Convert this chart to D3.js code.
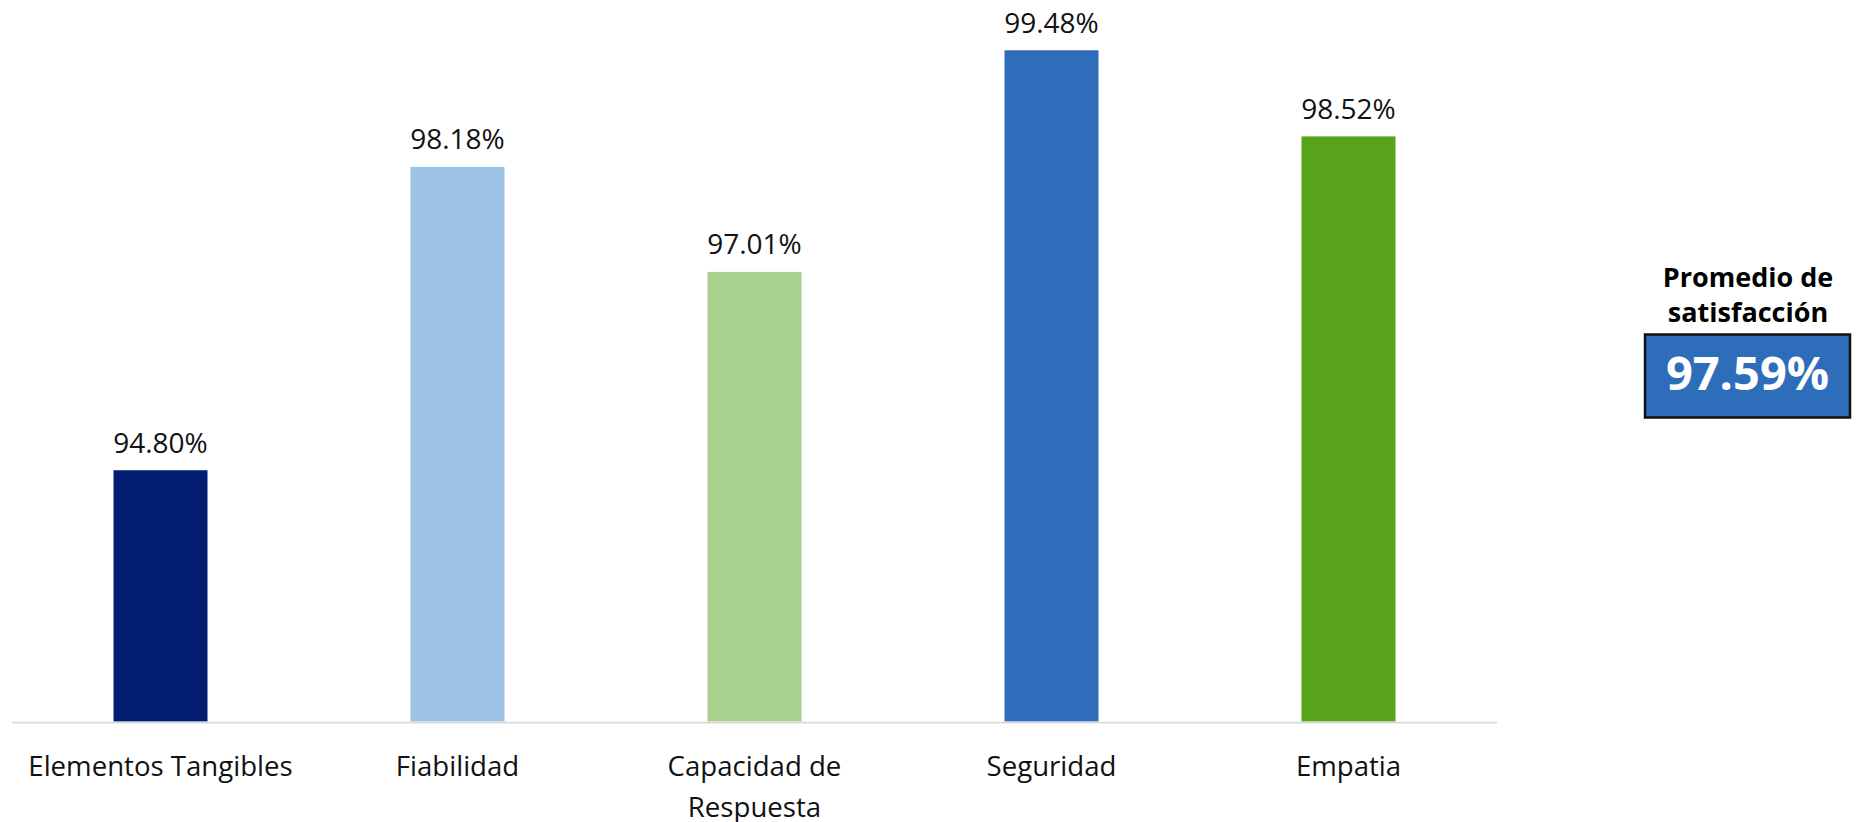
<!DOCTYPE html>
<html>
<head>
<meta charset="utf-8">
<script src="https://cdn.jsdelivr.net/npm/d3@7"></script>
<style>
  html, body { margin: 0; padding: 0; background: #ffffff; }
  svg { display: block; font-family: "Open Sans", "Noto Sans", sans-serif; }
</style>
</head>
<body>
<svg id="chart" width="1860" height="822"></svg>
<script>
// Satisfaction by service-quality dimension (percent)
const categories = ["Elementos Tangibles", "Fiabilidad", "Capacidad de Respuesta", "Seguridad", "Empatia"];
const categoryLines = [["Elementos Tangibles"], ["Fiabilidad"], ["Capacidad de", "Respuesta"], ["Seguridad"], ["Empatia"]];
const values = [94.80, 98.18, 97.01, 99.48, 98.52];
const barColors = ["#031d73", "#9dc3e6", "#a9d18e", "#2e6db9", "#57a31c"];
const averageTitle = ["Promedio de", "satisfacción"];
const averageValue = 97.59;

const svg = d3.select("#chart");

const x = d3.scaleBand()
  .domain(categories)
  .range([12, 1497])
  .paddingInner(0.6835)
  .paddingOuter(0.6835 / 2);

const y = d3.scaleLinear()
  .domain([92, 100])
  .range([721.5, 3.6]);

const fmt = v => v.toFixed(2) + "%";

// Bars
svg.append("g")
  .selectAll("rect")
  .data(values)
  .join("rect")
  .attr("x", (d, i) => x(categories[i]))
  .attr("y", d => y(d))
  .attr("width", x.bandwidth())
  .attr("height", d => y(92) - y(d))
  .attr("fill", (d, i) => barColors[i]);

// Category axis baseline
svg.append("line")
  .attr("x1", x.range()[0])
  .attr("x2", x.range()[1])
  .attr("y1", 722.6)
  .attr("y2", 722.6)
  .attr("stroke", "#d9d9d9")
  .attr("stroke-width", 1.8);

// Value labels above bars
svg.append("g")
  .selectAll("text")
  .data(values)
  .join("text")
  .attr("x", (d, i) => x(categories[i]) + x.bandwidth() / 2)
  .attr("y", d => y(d) - 17.5)
  .attr("text-anchor", "middle")
  .attr("font-size", 28)
  .attr("fill", "#111111")
  .text(d => fmt(d));

// Category labels (wrapped)
const cat = svg.append("g")
  .selectAll("text")
  .data(categories)
  .join("text")
  .attr("text-anchor", "middle")
  .attr("font-size", 27.6)
  .attr("fill", "#111111");
cat.each(function(d, i) {
  const t = d3.select(this);
  categoryLines[i].forEach((line, k) => {
    t.append("tspan")
      .attr("x", x(d) + x.bandwidth() / 2)
      .attr("y", 775.5 + k * 41)
      .text(line);
  });
});

// Average satisfaction panel
const panel = svg.append("g");
averageTitle.forEach((line, k) => {
  panel.append("text")
    .attr("x", 1748)
    .attr("y", 287 + k * 34.5)
    .attr("text-anchor", "middle")
    .attr("font-size", 27)
    .attr("font-weight", "bold")
    .attr("fill", "#000000")
    .text(line);
});
panel.append("rect")
  .attr("x", 1645)
  .attr("y", 334.5)
  .attr("width", 205)
  .attr("height", 83)
  .attr("fill", "#2e6db9")
  .attr("stroke", "#111111")
  .attr("stroke-width", 2.5);
panel.append("text")
  .attr("x", 1747.5)
  .attr("y", 390)
  .attr("text-anchor", "middle")
  .attr("font-size", 47)
  .attr("font-weight", "bold")
  .attr("fill", "#ffffff")
  .text(fmt(averageValue));
</script>
</body>
</html>
